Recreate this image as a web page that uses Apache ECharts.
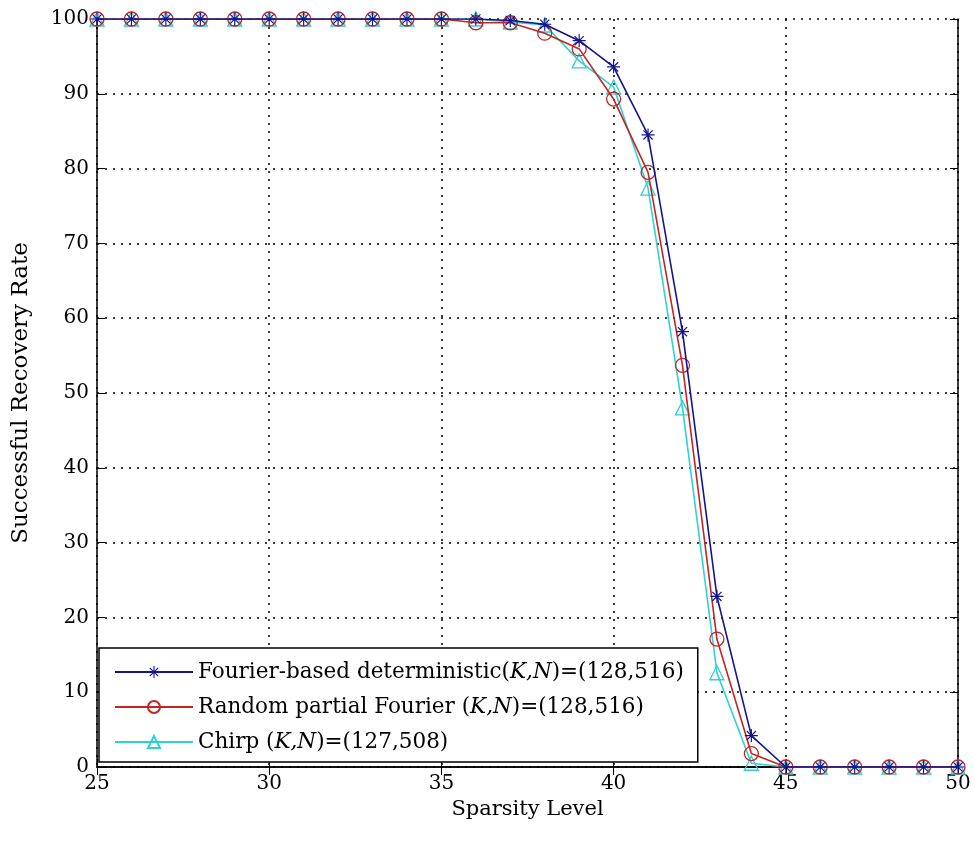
<!DOCTYPE html>
<html>
<head>
<meta charset="utf-8">
<script src="https://cdn.jsdelivr.net/npm/echarts@6/dist/echarts.min.js"></script>
<style>
  html, body { margin: 0; padding: 0; background: #fff; }
  #main { width: 975px; height: 841px; }
</style>
</head>
<body>
<div id="main"></div>
<script>
// sparsity levels 25..50
var sparsity = [25, 26, 27, 28, 29, 30, 31, 32, 33, 34, 35, 36, 37, 38, 39, 40, 41, 42, 43, 44, 45, 46, 47, 48, 49, 50];
var fourierDet = [100, 100, 100, 100, 100, 100, 100, 100, 100, 100, 100, 100, 99.8, 99.3, 97.1, 93.6, 84.5, 58.2, 22.8, 4.2, 0, 0, 0, 0, 0, 0];
var randomPartial = [100, 100, 100, 100, 100, 100, 100, 100, 100, 100, 100, 99.5, 99.5, 98.1, 96.0, 89.3, 79.5, 53.7, 17.1, 1.8, 0, 0, 0, 0, 0, 0];
var chirp = [100, 100, 100, 100, 100, 100, 100, 100, 100, 100, 100, 100, 99.6, 99.2, 94.4, 90.9, 77.4, 48.0, 12.6, 0.5, 0, 0, 0, 0, 0, 0];
var seriesNames = [
  'Fourier-based deterministic({i|K,N})=(128,516)',
  'Random partial Fourier ({i|K,N})=(128,516)',
  'Chirp ({i|K,N})=(127,508)'
];

function pairs(ys) {
  return sparsity.map(function (x, i) { return [x, ys[i]]; });
}

var font = 'DejaVu Serif';
var asterisk = 'path://M-0.9,-10L0.9,-10L0.9,10L-0.9,10Z M-10,-0.9L10,-0.9L10,0.9L-10,0.9Z ' +
  'M-7.7,-6.4L-6.4,-7.7L7.7,6.4L6.4,7.7Z M6.4,-7.7L7.7,-6.4L-6.4,7.7L-7.7,6.4Z';

var dom = document.getElementById('main');
var myChart = echarts.init(dom, null, { renderer: 'canvas' });

var option = {
  backgroundColor: '#fff',
  animation: false,
  grid: { left: 97, right: 17, top: 19, bottom: 74 },
  legend: {
    orient: 'vertical',
    left: 99,
    top: 648,
    padding: [10, 14, 6, 15],
    itemGap: 7,
    itemWidth: 78,
    itemHeight: 15,
    backgroundColor: '#fff',
    borderColor: '#000',
    borderWidth: 1.5,
    textStyle: {
      fontFamily: font,
      fontSize: 21.5,
      lineHeight: 28,
      color: '#000',
      rich: { i: { fontFamily: font, fontStyle: 'italic', fontSize: 21.5, lineHeight: 28, color: '#000' } }
    },
    data: seriesNames
  },
  xAxis: [{
    type: 'value',
    min: 25, max: 50, interval: 5,
    name: 'Sparsity Level',
    nameLocation: 'middle',
    nameGap: 32,
    nameTextStyle: { fontFamily: font, fontSize: 21, color: '#000' },
    axisLine: { lineStyle: { color: '#000', width: 1.5 } },
    axisTick: { inside: true, length: 8, lineStyle: { color: '#000' } },
    axisLabel: { fontFamily: font, fontSize: 20, color: '#000', margin: 7 },
    splitLine: { show: true, lineStyle: { type: [2, 6], color: '#000', width: 1.5 } }
  }, {
    type: 'value', position: 'top',
    min: 25, max: 50, interval: 5,
    axisLine: { lineStyle: { color: '#000', width: 1.5 } },
    axisTick: { inside: true, length: 8, lineStyle: { color: '#000' } },
    axisLabel: { show: false },
    splitLine: { show: false }
  }],
  yAxis: [{
    type: 'value',
    min: 0, max: 100, interval: 10,
    name: 'Successful Recovery Rate',
    nameLocation: 'middle',
    nameGap: 64,
    nameTextStyle: { fontFamily: font, fontSize: 23, color: '#000' },
    axisLine: { show: true, lineStyle: { color: '#000', width: 1.5 } },
    axisTick: { show: true, inside: true, length: 8, lineStyle: { color: '#000' } },
    axisLabel: { fontFamily: font, fontSize: 20, color: '#000', margin: 8 },
    splitLine: { show: true, lineStyle: { type: [2, 6], color: '#000', width: 1.5 } }
  }, {
    type: 'value', position: 'right',
    min: 0, max: 100, interval: 10,
    axisLine: { show: true, lineStyle: { color: '#000', width: 1.5 } },
    axisTick: { show: true, inside: true, length: 8, lineStyle: { color: '#000' } },
    axisLabel: { show: false },
    splitLine: { show: false }
  }],
  series: [
    {
      name: seriesNames[0],
      type: 'line',
      data: pairs(fourierDet),
      symbol: asterisk,
      symbolSize: 13,
      z: 4,
      lineStyle: { color: '#14148c', width: 1.6 },
      itemStyle: { color: '#14148c' }
    },
    {
      name: seriesNames[1],
      type: 'line',
      data: pairs(randomPartial),
      symbol: 'circle',
      symbolSize: 14,
      z: 3,
      lineStyle: { color: '#c42424', width: 1.6 },
      itemStyle: { color: 'rgba(0,0,0,0)', borderColor: '#c42424', borderWidth: 1.3 }
    },
    {
      name: seriesNames[2],
      type: 'line',
      data: pairs(chirp),
      symbol: 'triangle',
      symbolSize: 14,
      z: 2,
      lineStyle: { color: '#2ed2d2', width: 1.6 },
      itemStyle: { color: 'rgba(0,0,0,0)', borderColor: '#2ed2d2', borderWidth: 1.3 }
    }
  ]
};

if (option && typeof option === 'object') {
  myChart.setOption(option);
}

window.addEventListener('resize', myChart.resize);
</script>
</body>
</html>
